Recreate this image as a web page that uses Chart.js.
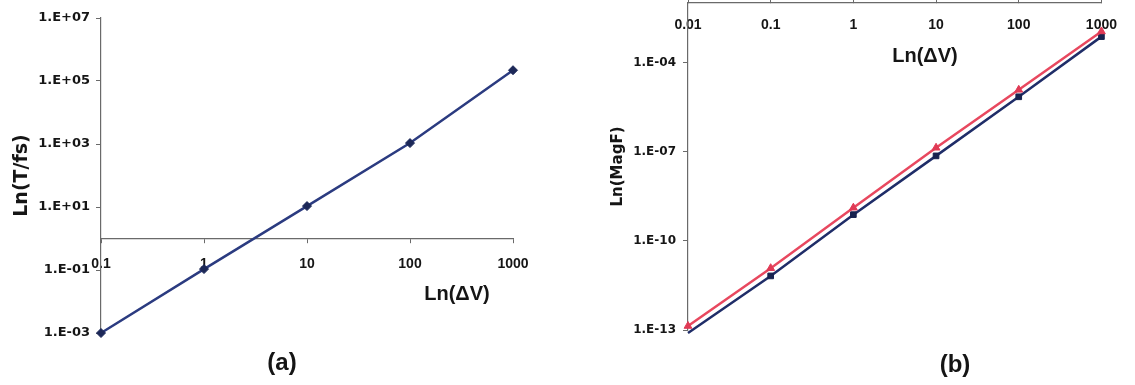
<!DOCTYPE html>
<html>
<head>
<meta charset="utf-8">
<script src="https://cdn.jsdelivr.net/npm/chart.js@4"></script>
<style>
html,body{margin:0;padding:0;background:#fff;width:1135px;height:385px;overflow:hidden;position:relative}
#wa{position:absolute;left:0;top:0;width:560px;height:385px}
#wb{position:absolute;left:560px;top:-20px;width:575px;height:405px}
.lab{position:absolute;font-family:'Liberation Sans',Arial,sans-serif;font-weight:bold;color:#151515;transform:translate(-50%,-50%);white-space:nowrap;line-height:1}
</style>
</head>
<body>
<div id="wa"><canvas id="ca"></canvas></div>
<div id="wb"><canvas id="cb"></canvas></div>
<div class="lab" style="left:457px;top:293px;font-size:20px">Ln(ΔV)</div>
<div class="lab" style="left:925px;top:55px;font-size:20px">Ln(ΔV)</div>
<div class="lab" style="left:282px;top:362px;font-size:24px">(a)</div>
<div class="lab" style="left:955px;top:364px;font-size:24px">(b)</div>
<script>
// ---- Chart (a) data ----
const dVA = [0.1, 1, 10, 100, 1000];
const tfsA = [0.001, 0.107, 10.7, 1070, 220000];
const xTicksA = [0.1, 1, 10, 100, 1000];
const xTickLabelsA = ['0.1', '1', '10', '100', '1000'];
const yTicksA = [1e-3, 1e-1, 1e1, 1e3, 1e5, 1e7];
const yTickLabelsA = ['1.E-03', '1.E-01', '1.E+01', '1.E+03', '1.E+05', '1.E+07'];

// ---- Chart (b) data ----
const dVB = [0.01, 0.1, 1, 10, 100, 1000];
const magRed = [1.36e-13, 1.2e-11, 1.3e-9, 1.35e-7, 1.2e-5, 1.1e-3];
const magBlue = [7.9e-14, 6.6e-12, 7.6e-10, 7.2e-8, 7.0e-6, 7.4e-4];
const xTicksB = [0.01, 0.1, 1, 10, 100, 1000];
const xTickLabelsB = ['0.01', '0.1', '1', '10', '100', '1000'];
const yTicksB = [1e-13, 1e-10, 1e-7, 1e-4];
const yTickLabelsB = ['1.E-13', '1.E-10', '1.E-07', '1.E-04'];

const AXIS = '#6a6a6a';
const TXT = '#151515';
const ARIAL = "'Liberation Sans', Arial, sans-serif";
const DEJA = "'DejaVu Sans', sans-serif";

function pts(xs, ys) { return xs.map((x, i) => ({x: x, y: ys[i]})); }
function fixTicks(list) { return s => { s.ticks = list.map(v => ({value: v})); }; }

Chart.defaults.animation = false;

new Chart(document.getElementById('ca'), {
  type: 'line',
  data: {
    datasets: [{
      data: pts(dVA, tfsA),
      borderColor: '#2b3b80',
      borderWidth: 2.5,
      pointStyle: 'rectRot',
      pointRadius: 4.5,
      pointBackgroundColor: '#1c2858',
      pointBorderColor: '#1c2858',
      pointBorderWidth: 1,
      tension: 0,
      clip: false
    }]
  },
  options: {
    responsive: true,
    maintainAspectRatio: false,
    layout: {padding: {left: 7, right: 47, top: 18, bottom: 52}},
    plugins: {legend: {display: false}, tooltip: {enabled: false}},
    scales: {
      x: {
        type: 'logarithmic', min: 0.1, max: 1000,
        position: {y: 1},
        afterBuildTicks: fixTicks(xTicksA),
        ticks: {autoSkip: false, maxRotation: 0, padding: 13, color: TXT,
          font: {family: ARIAL, size: 14, weight: 'bold'},
          callback: (v, i) => xTickLabelsA[i]},
        grid: {drawOnChartArea: false, drawTicks: true, tickLength: 4, color: AXIS, lineWidth: 1},
        border: {display: true, color: AXIS, width: 1.2}
      },
      y: {
        type: 'logarithmic', min: 1e-3, max: 1e7,
        position: 'left',
        afterBuildTicks: fixTicks(yTicksA),
        afterFit: s => { s.width = 94; },
        ticks: {autoSkip: false, padding: 6, color: TXT,
          font: {family: DEJA, size: 13, weight: 'bold'},
          callback: (v, i) => yTickLabelsA[i]},
        grid: {drawOnChartArea: false, drawTicks: true, tickLength: 5, color: AXIS, lineWidth: 1},
        border: {display: true, color: AXIS, width: 1.2},
        title: {display: true, text: 'Ln(T/fs)', color: TXT, padding: {top: 4, bottom: 4},
          font: {family: DEJA, size: 19, weight: 'bold'}}
      }
    }
  }
});

new Chart(document.getElementById('cb'), {
  type: 'line',
  data: {
    datasets: [{
      data: pts(dVB, magRed),
      borderColor: '#e8485f',
      borderWidth: 2.5,
      pointStyle: 'triangle',
      pointRadius: 4.5,
      pointBackgroundColor: '#e03a55',
      pointBorderColor: '#e03a55',
      pointBorderWidth: 1,
      tension: 0,
      clip: false
    }, {
      data: pts(dVB, magBlue),
      borderColor: '#1f2d68',
      borderWidth: 2.5,
      pointStyle: 'rect',
      pointRadius: [0, 4, 4, 4, 4, 4],
      pointBackgroundColor: '#17224f',
      pointBorderColor: '#17224f',
      pointBorderWidth: 1,
      tension: 0,
      clip: false
    }]
  },
  options: {
    responsive: true,
    maintainAspectRatio: false,
    layout: {padding: {left: 45, right: 20, top: 23, bottom: 55}},
    plugins: {legend: {display: false}, tooltip: {enabled: false}},
    scales: {
      x: {
        type: 'logarithmic', min: 0.01, max: 1000,
        position: {y: 1e-2},
        afterBuildTicks: fixTicks(xTicksB),
        ticks: {autoSkip: false, maxRotation: 0, padding: 18, color: TXT,
          font: {family: ARIAL, size: 14, weight: 'bold'},
          callback: (v, i) => xTickLabelsB[i]},
        grid: {drawOnChartArea: false, drawTicks: true, tickLength: -4, color: AXIS, lineWidth: 1},
        border: {display: true, color: AXIS, width: 1.2}
      },
      y: {
        type: 'logarithmic', min: 1e-13, max: 1e-2,
        position: 'left',
        afterBuildTicks: fixTicks(yTicksB),
        afterFit: s => { s.width = 83; },
        ticks: {autoSkip: false, padding: 7, color: TXT,
          font: {family: DEJA, size: 12, weight: 'bold'},
          callback: (v, i) => yTickLabelsB[i]},
        grid: {drawOnChartArea: false, drawTicks: true, tickLength: 5, color: AXIS, lineWidth: 1},
        border: {display: true, color: AXIS, width: 1.2},
        title: {display: true, text: 'Ln(MagF)', color: TXT, padding: {top: 4, bottom: 4},
          font: {family: DEJA, size: 15, weight: 'bold'}}
      }
    }
  }
});
</script>
</body>
</html>
